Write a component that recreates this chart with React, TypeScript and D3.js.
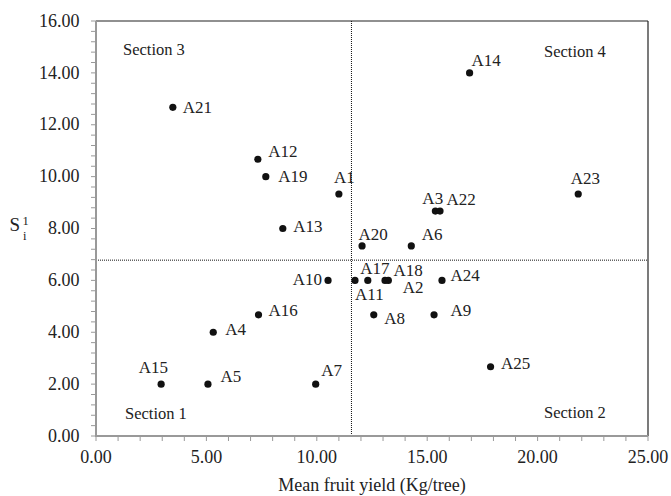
import React from "react";
import * as d3 from "d3";

// accessions
const names = ["A1","A2","A3","A4","A5","A6","A7","A8","A9","A10","A11","A12","A13","A14","A15","A16","A17","A18","A19","A20","A21","A22","A23","A24","A25"];
const yieldValues = [11.0, 13.24, 15.37, 5.31, 5.07, 14.28, 9.95, 12.58, 15.31, 10.51, 11.73, 7.33, 8.46, 16.92, 2.95, 7.36, 12.31, 13.09, 7.69, 12.05, 3.48, 15.58, 21.84, 15.67, 17.87];
const s1Values = [9.33, 6.0, 8.67, 4.0, 2.0, 7.33, 2.0, 4.67, 4.67, 6.0, 6.0, 10.67, 8.0, 14.0, 2.0, 4.67, 6.0, 6.0, 10.0, 7.33, 12.67, 8.67, 9.33, 6.0, 2.67];

const xTicks = [0, 5, 10, 15, 20, 25];
const yTicks = [0, 2, 4, 6, 8, 10, 12, 14, 16];
const meanYield = 11.57;
const meanS1 = 6.78;
const sectionNames = ["Section 1", "Section 2", "Section 3", "Section 4"];

// label placement relative to the dot [dx, dy, anchor]
const labelPos: Record<string, [number, number, string]> = {
  A1: [-5, -11.5, "start"], A2: [14.5, 12.5, "start"], A3: [-13, -7, "start"],
  A4: [12, 3, "start"], A5: [12.5, -2, "start"], A6: [10.5, -6, "start"],
  A7: [5.5, -8.5, "start"], A8: [10.5, 9, "start"], A9: [16.5, 1, "start"],
  A10: [-6, 5, "end"], A11: [0, 20, "start"], A12: [10.5, -2.5, "start"],
  A13: [10.5, 3.5, "start"], A14: [2, -6.5, "start"], A15: [-22.5, -11, "start"],
  A16: [10, 1, "start"], A17: [-7.5, -6.5, "start"], A18: [8.5, -4.5, "start"],
  A19: [12.5, 5.5, "start"], A20: [-3.5, -6, "start"], A21: [10, 6, "start"],
  A22: [6.5, -6.5, "start"], A23: [-7.5, -10, "start"], A24: [8.5, 1, "start"],
  A25: [10.5, 2.5, "start"],
};

const width = 671;
const height = 496;
const margin = { top: 21, right: 23, bottom: 60, left: 96 };
const font = "Liberation Serif";
const ink = "#222";

export default function App() {
  const x = d3.scaleLinear().domain([0, 25]).range([margin.left, width - margin.right]);
  const y = d3.scaleLinear().domain([0, 16]).range([height - margin.bottom, margin.top]);
  const [x0, x1] = x.range();
  const [y0, y1] = y.range();

  const xMinor = d3.range(0, 25.001, 1);
  const yMinor = d3.range(0, 16.001, 0.4);

  const points = names.map((n, i) => ({ name: n, x: yieldValues[i], y: s1Values[i] }));

  // section label spots (page coords)
  const sectionSpots: [number, number][] = [[125, 419], [544, 418], [123, 55], [544, 57]];

  const tx = { fontFamily: font, fill: ink };

  return (
    <svg width={width} height={height} style={{ display: "block", position: "absolute", left: 0, top: 0, background: "#fff" }}>
      {/* frame: top & right dark */}
      <line x1={x0} x2={x1} y1={y1} y2={y1} stroke="#222" strokeWidth={1.2} />
      <line x1={x1} x2={x1} y1={y1} y2={y0} stroke="#222" strokeWidth={1.2} />

      {/* mean lines */}
      <line x1={x(meanYield)} x2={x(meanYield)} y1={y1} y2={y0} stroke="#111" strokeWidth={1} strokeDasharray="1,1" />
      <line x1={x0} x2={x1} y1={y(meanS1)} y2={y(meanS1)} stroke="#111" strokeWidth={1} strokeDasharray="1,1" />

      {/* minor ticks */}
      {xMinor.map((t) => (
        <line key={"xm" + t} x1={x(t)} x2={x(t)} y1={y0} y2={y0 + 5} stroke="#999" strokeWidth={1} />
      ))}
      {yMinor.map((t) => (
        <line key={"ym" + t} x1={x0 - 5} x2={x0} y1={y(t)} y2={y(t)} stroke="#999" strokeWidth={1} />
      ))}

      {/* axes: left & bottom gray */}
      <line x1={x0} x2={x0} y1={y1} y2={y0 + 1} stroke="#999" strokeWidth={2} />
      <line x1={x0 - 1} x2={x1} y1={y0} y2={y0} stroke="#999" strokeWidth={2} />

      {xTicks.map((t) => (
        <text key={"xt" + t} x={x(t)} y={y0 + 27} textAnchor="middle" fontSize={18} style={tx}>
          {t.toFixed(2)}
        </text>
      ))}
      {yTicks.map((t) => (
        <text key={"yt" + t} x={x0 - 16.5} y={y(t) + 5.7} textAnchor="end" fontSize={18} style={tx}>
          {t.toFixed(2)}
        </text>
      ))}

      {/* axis titles */}
      <text x={(x0 + x1) / 2} y={491} textAnchor="middle" fontSize={18} style={tx}>
        Mean fruit yield (Kg/tree)
      </text>
      <text x={9.5} y={230.5} fontSize={19} style={tx}>S</text>
      <text x={23} y={239.5} fontSize={12.5} style={tx}>i</text>
      <text x={22.5} y={225} fontSize={12.5} style={tx}>1</text>

      {/* section labels */}
      {sectionNames.map((s, i) => (
        <text key={s} x={sectionSpots[i][0]} y={sectionSpots[i][1]} fontSize={16.5} style={tx}>
          {s}
        </text>
      ))}

      {/* points */}
      {points.map((p) => (
        <circle key={p.name} cx={x(p.x)} cy={y(p.y)} r={3.6} fill="#111" />
      ))}
      {points.map((p) => {
        const [dx, dy, anchor] = labelPos[p.name];
        return (
          <text key={"l" + p.name} x={x(p.x) + dx} y={y(p.y) + dy} textAnchor={anchor} fontSize={17} style={tx}>
            {p.name}
          </text>
        );
      })}
    </svg>
  );
}
